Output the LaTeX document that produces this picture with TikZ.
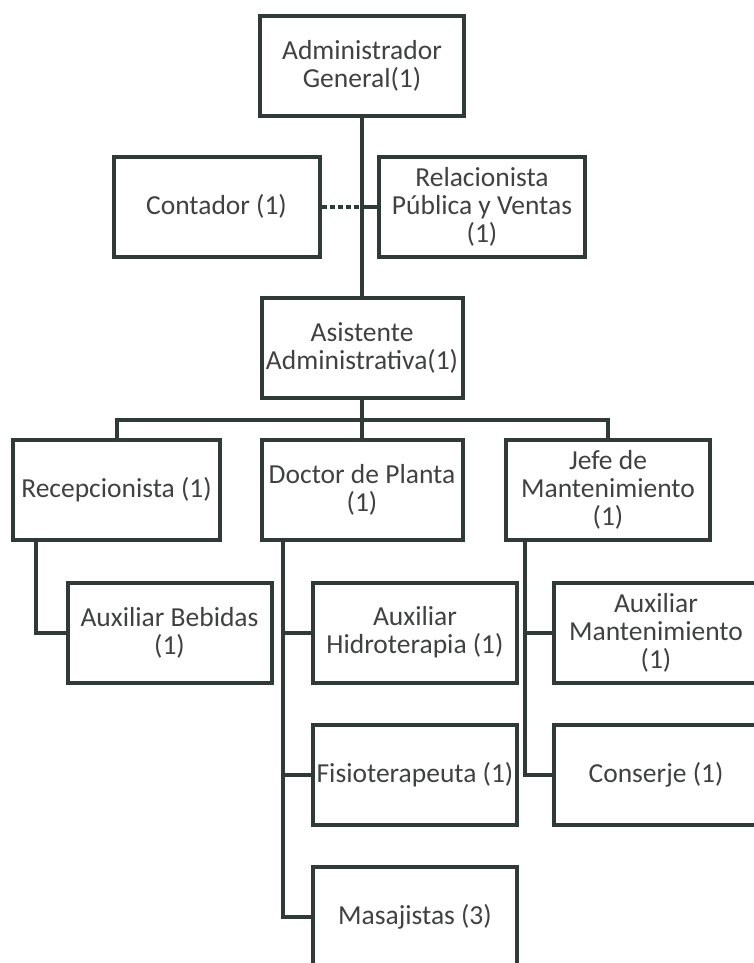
\documentclass[tikz,border=0pt]{standalone}
\usepackage{fontspec}
\setmainfont{Carlito}
\usepackage{xcolor}
\usetikzlibrary{positioning}

\definecolor{boxline}{RGB}{48,58,54}
\definecolor{boxtext}{RGB}{64,66,65}

\begin{document}
\begin{tikzpicture}[
  x=1pt, y=-1pt,
  font=\fontsize{27.5}{28}\selectfont,
  post/.style={
    draw=boxline,
    line width=4pt,
    fill=white,
    text=boxtext,
    align=center,
    minimum width=204pt,
    minimum height=100pt,
    inner sep=0pt,
  },
  link/.style={draw=boxline, line width=4pt},
  staff/.style={draw=boxline, line width=4pt, dash pattern=on 5pt off 3pt},
]

% page frame
\fill[white] (0,0) rectangle (753,963);
\useasboundingbox (0,0) rectangle (753,963);

% top of the chart
\node[post] (gerente) at (362,66) {Administrador\\General(1)};
\node[post, minimum width=206pt] (contador) at (216.5,206.5) {Contador (1)};
\node[post, minimum width=206pt] (ventas) at (482,206.5) {Relacionista\\Pública y Ventas\\(1)};
\node[post, minimum width=201pt] (asistente) at (362,347.5) {Asistente\\Administrativa(1)};

% heads of area
\node[post, minimum width=207pt] (recepcion) at (116.5,490) {Recepcionista (1)};
\node[post, minimum width=201pt] (doctor) at (362,490) {Doctor de Planta\\(1)};
\node[post] (jefe) at (608,490) {Jefe de\\Mantenimiento\\(1)};

% staff under each head
\node[post] (bebidas) at (169.5,632.5) {Auxiliar Bebidas\\(1)};
\node[post] (hidro) at (415,632.5) {Auxiliar\\Hidroterapia (1)};
\node[post, below=38pt of hidro] (fisio) {Fisioterapeuta (1)};
\node[post, below=38pt of fisio] (masajes) {Masajistas (3)};
\node[post] (auxmant) at (656,632.5) {Auxiliar\\Mantenimiento\\(1)};
\node[post, below=38pt of auxmant] (conserje) {Conserje (1)};

\coordinate (bus) at (362,420);

\draw[link] (gerente.south) -- (asistente.north);
\draw[staff] (contador.east) -- (contador.east -| gerente.south);
\draw[link] (ventas.west) -- (ventas.west -| gerente.south);

\draw[link] (asistente.south) -- (bus);
\draw[link] (recepcion.north) |- (bus) -| (jefe.north);
\draw[link] (bus) -- (doctor.north);

\draw[link] ([xshift=25pt]recepcion.south west) |- (bebidas.west);
\draw[link] ([xshift=23pt]doctor.south west) |- (hidro.west);
\draw[link] ([xshift=23pt]doctor.south west) |- (fisio.west);
\draw[link] ([xshift=23pt]doctor.south west) |- (masajes.west);
\draw[link] ([xshift=21pt]jefe.south west) |- (auxmant.west);
\draw[link] ([xshift=21pt]jefe.south west) |- (conserje.west);

\end{tikzpicture}
\end{document}
